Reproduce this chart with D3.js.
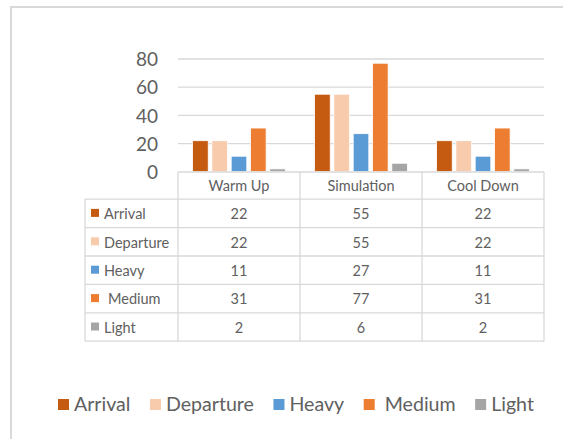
<!DOCTYPE html>
<html><head><meta charset="utf-8">
<script src="https://cdn.jsdelivr.net/npm/d3@7"></script>
<style>html,body{margin:0;padding:0;background:#fff;}svg{display:block;}</style>
</head><body>
<svg id="chart" width="563" height="439"></svg>
<script>
const categories = ["Warm Up", "Simulation", "Cool Down"];
const seriesNames = ["Arrival", "Departure", "Heavy", "Medium", "Light"];
const arrival   = [22, 55, 22];
const departure = [22, 55, 22];
const heavy     = [11, 27, 11];
const medium    = [31, 77, 31];
const light     = [2, 6, 2];
const yTicks = [0, 20, 40, 60, 80];
const colors = ["#C55A11", "#F8CBAD", "#5B9BD5", "#ED7D31", "#A5A5A5"];

const seriesValues = [arrival, departure, heavy, medium, light];
const series = seriesNames.map((n, i) => ({name: n, values: seriesValues[i], color: colors[i]}));

const FONT = "Lato, 'Open Sans', sans-serif";
const TXT = "#606060";
const LINE = "#d9d9d9";

const svg = d3.select("#chart");

// outer frame (only top/left visible)
svg.append("rect").attr("x", 11).attr("y", 7).attr("width", 600).attr("height", 500)
  .attr("fill", "none").attr("stroke", LINE).attr("stroke-width", 2);

const x = d3.scaleBand().domain(categories).range([178, 544]).padding(0);
const xi = d3.scaleBand().domain(seriesNames).range([0, x.bandwidth()])
  .paddingInner(0.19).paddingOuter(0.755);
const y = d3.scaleLinear().domain([0, 80]).range([171.7, 59]);

// gridlines
svg.append("g").selectAll("line").data(yTicks.filter(t => t > 0)).join("line")
  .attr("x1", 178).attr("x2", 544)
  .attr("y1", d => y(d)).attr("y2", d => y(d))
  .attr("stroke", LINE).attr("stroke-width", 1.3);

// y axis labels
const yAxis = d3.axisLeft(y).tickValues(yTicks).tickSize(0).tickPadding(0);
const yg = svg.append("g").attr("transform", "translate(158,0)").call(yAxis);
yg.select(".domain").remove();
yg.selectAll("text").attr("font-family", FONT).attr("font-size", 19)
  .attr("fill", TXT).attr("dy", "0.35em");

// bars
const groups = svg.append("g").selectAll("g").data(series).join("g").attr("fill", d => d.color);
groups.selectAll("rect").data(s => s.values.map((v, i) => ({s: s.name, c: categories[i], v})))
  .join("rect")
  .attr("x", d => x(d.c) + xi(d.s))
  .attr("width", xi.bandwidth())
  .attr("y", d => y(d.v))
  .attr("height", d => y(0) - y(d.v))
  .attr("stroke", "#fff").attr("stroke-width", 0.8);

// data table
const headerTop = 172, rowTop = 199.2, rowH = 28.4;
const tableLeft = 85, tableRight = 544;
const tg = svg.append("g");
const nRows = series.length;
tg.append("line").attr("x1", 178).attr("x2", tableRight).attr("y1", headerTop).attr("y2", headerTop)
  .attr("stroke", LINE).attr("stroke-width", 1.3);
d3.range(nRows + 1).forEach(i => {
  tg.append("line").attr("x1", tableLeft).attr("x2", tableRight)
    .attr("y1", rowTop + i * rowH).attr("y2", rowTop + i * rowH)
    .attr("stroke", LINE).attr("stroke-width", 1.3);
});
const tableBottom = rowTop + nRows * rowH;
tg.append("line").attr("x1", tableLeft).attr("x2", tableLeft).attr("y1", rowTop).attr("y2", tableBottom)
  .attr("stroke", LINE).attr("stroke-width", 1.3);
categories.forEach(c => {
  tg.append("line").attr("x1", x(c)).attr("x2", x(c)).attr("y1", headerTop).attr("y2", tableBottom)
    .attr("stroke", LINE).attr("stroke-width", 1.3);
});
tg.append("line").attr("x1", tableRight).attr("x2", tableRight).attr("y1", headerTop).attr("y2", tableBottom)
  .attr("stroke", LINE).attr("stroke-width", 1.3);

tg.selectAll("text.hdr").data(categories).join("text").attr("class", "hdr")
  .attr("x", c => x(c) + x.bandwidth() / 2).attr("y", (headerTop + rowTop) / 2)
  .attr("dy", "0.4em").attr("text-anchor", "middle")
  .attr("font-family", FONT).attr("font-size", 14.5).attr("fill", TXT).text(c => c);

series.forEach((s, i) => {
  const cy = rowTop + i * rowH + rowH / 2;
  tg.append("rect").attr("x", 91).attr("y", cy - 4.5).attr("width", 8).attr("height", 8).attr("fill", s.color);
  tg.append("text").attr("x", s.name === "Medium" ? 108 : 104).attr("y", cy).attr("dy", "0.4em")
    .attr("font-family", FONT).attr("font-size", 14.5).attr("fill", TXT).text(s.name);
  s.values.forEach((v, j) => {
    tg.append("text").attr("x", x(categories[j]) + x.bandwidth() / 2).attr("y", cy).attr("dy", "0.4em")
      .attr("text-anchor", "middle").attr("font-family", FONT).attr("font-size", 14.5)
      .attr("fill", TXT).text(v);
  });
});

// legend
const lg = svg.append("g");
let lx = 58;
const ly = 411;
series.forEach((s, i) => {
  lg.append("rect").attr("x", lx).attr("y", ly - 12).attr("width", 11).attr("height", 11).attr("fill", s.color);
  const tx = lx + 11 + (s.name === "Medium" ? 10 : 5);
  const t = lg.append("text").attr("x", tx).attr("y", ly)
    .attr("font-family", FONT).attr("font-size", 19.6).attr("fill", TXT).text(s.name);
  const w = t.node().getComputedTextLength();
  lx = tx + w + 19.5;
});
</script>
</body></html>
